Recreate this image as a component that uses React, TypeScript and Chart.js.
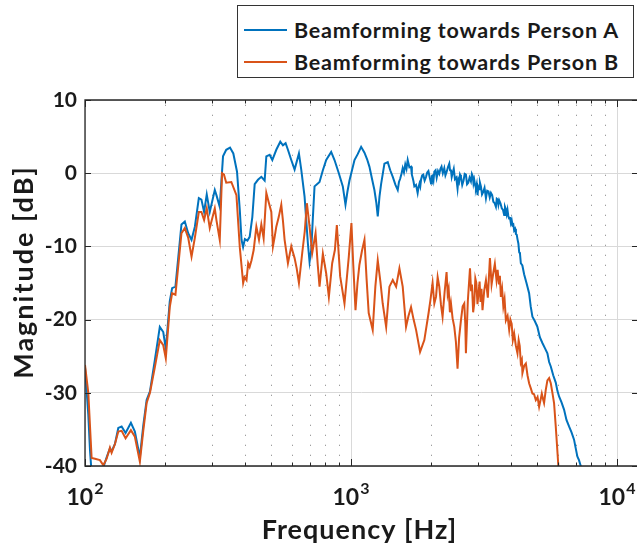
import React, { useEffect, useRef } from "react";
import { Chart, registerables } from "chart.js";

Chart.register(...registerables);

// ---------- data ----------
const freqA = [
  100, 102.9, 104.4, 105.9, 109, 113.8, 117.2, 120.6, 124.1, 125.9, 129.6, 133.4, 137.3, 142.1, 148.8,
  154.0, 160.8, 165.6, 170.5, 175.5, 183.1, 191.1, 196.9, 201.3, 208.3, 212.6, 218.8, 230.5, 237.3,
  244.3, 251.5, 258.9, 267.9, 274.0, 280.4, 286.9, 294.5, 307.6, 312.0, 321.1, 330.3, 339.6, 350.9,
  361.1, 372.9, 381.9, 387.7, 393, 399.1, 408, 416.0, 425.7, 434.5, 447.0, 460.2, 473.6, 480.6, 494.6,
  506.1, 523.9, 542.3, 554.9, 567.9, 579.4, 596.4, 613.8, 637.3, 650.2, 669.2, 688.7, 698.7, 708.9,
  719.2, 729.5, 745, 761.7, 784.0, 807.0, 842.6, 867.2, 900.2, 931.8, 953.6, 970, 987.2, 1031, 1060,
  1092, 1124, 1150, 1173, 1200, 1225, 1245, 1261, 1280, 1298, 1336, 1375, 1405, 1436, 1470,
  1499, 1515, 1530, 1548, 1565, 1582, 1600, 1617, 1634, 1658, 1682, 1694, 1705, 1718, 1731, 1756,
  1781, 1795, 1810, 1822, 1834, 1852, 1870, 1892, 1915, 1935, 1955, 1978, 2000, 2015, 2030, 2044,
  2058, 2080, 2100, 2124, 2148, 2170, 2190, 2215, 2243, 2265, 2290, 2315, 2342, 2358, 2375, 2392,
  2410, 2435, 2460, 2488, 2516, 2533, 2550, 2570, 2591, 2620, 2650, 2677, 2705, 2732, 2760, 2792,
  2825, 2848, 2870, 2888, 2907, 2928, 2950, 2970, 2991, 3010, 3030, 3055, 3080, 3110, 3140, 3178,
  3217, 3252, 3290, 3325, 3359, 3395, 3430, 3468, 3507, 3533, 3560, 3584, 3608, 3648, 3690, 3728,
  3767, 3794, 3820, 3850, 3877, 3903, 3930, 3960, 3991, 4020, 4050, 4078, 4107, 4140, 4170, 4200,
  4227, 4260, 4290, 4320, 4352, 4410, 4477, 4570, 4675, 4740, 4811,
  4910, 5023, 5130, 5245, 5360, 5477, 5560, 5640, 5760, 5888, 5970, 6059, 6190, 6326, 6460, 6606,
  6750, 6898, 7000, 7098, 7200, 7310, 7600,
];
const magA = [
  -26.5, -33, -37.8, -41, -41.5, -41, -40.2, -38.8, -37.6, -38.0, -37.0, -34.8, -34.6, -35.5, -34.1,
  -35.3, -38.8, -34.5, -31.0, -29.8, -25.5, -21.0, -21.7, -24.0, -17.5, -15.7, -15.5, -7.0, -6.6,
  -8.2, -9.1, -7.3, -3.4, -3.6, -5.3, -2.9, -5.3, -2.3, -3.0, -4.6, 2.3, 3.2, 3.5,
  2.7, 0.2, -5, -9.1, -10.1, -9.0, -9.2, -8.7, -6.0, -1.5, -0.9, -0.5, -1.0, 2.3, 2.5,
  1.8, 3.2, 4.3, 3.8, 4.1, 3.2, 1.8, 0.5, 2.7, 0.5, -3.2, -9.6, -12.1, -10.5,
  -6.0, -1.8, -1.5, -1.2, 0.4, 1.8, 2.9, 1.8, 0.0, -1.8, -4.3, -2.5, -1.0, 1.8, 2.6,
  3.6, 2.8, 1.9, 0.9, -0.8, -2.3, -4.0, -5.9, -3.2, -1.5, 1.3, 1.5, 0.4, -0.5, -1.6,
  -2.3, -1.2, -0.8, -0.1, 0.7, 0.1, 1.2, 0.6, 1.8, 0.8, 0.9, -0.2, -0.6, -1.1, -1.8, -1.6,
  -2.7, -1.9, -1.4, -1.8, -0.9, -0.3, -0.2, -1.0, -0.5, 0.1, 0.3, -0.6, -1.4, -0.4, -0.3, -0.9,
  0.2, 0.4, -0.6, 0.3, -0.1, 0.6, 0.9, 0.0, 0.7, -0.3, 0.2, 0.8, 1.3, 0.4, 0.5, -0.5,
  0.0, 0.6, -0.8, -0.6, -2.1, -0.9, -1.2, -0.2, -0.5, -1.6, -1.0, -0.1, -0.2, -1.5, -1.3, -0.6,
  -1.1, -0.1, -0.4, -1.4, -0.9, -1.6, -2.0, -1.5, -3.0, -1.9, -2.2, -1.3, -1.8, -2.9, -2.6, -2.0,
  -3.4, -2.4, -2.5, -3.3, -2.7, -3.0, -3.9, -4.1, -4.6, -3.5, -3.6, -4.3, -3.7, -4.1, -4.8, -5.0,
  -5.7, -4.6, -4.9, -5.6, -5.0, -5.8, -6.2, -6.0, -6.8, -6.4, -7.1, -7.0, -7.8, -7.6, -8.3, -8.4,
  -9.0, -9.6, -10.8, -11.0, -12.3, -12.6, -13.8, -15.0, -16.4, -18.2, -19.6,
  -20.2, -21.0, -22.4, -23.2, -23.9, -24.6, -25.8, -26.4, -27.6, -28.6, -29.7, -30.5, -31.3, -32.3, -33.7, -34.6,
  -35.4, -36.4, -37.6, -38.7, -39.2, -40.0, -42.5,
];

const freqB = [
  100, 102.9, 105.9, 109, 113.8, 117.2, 120.6, 124.1, 125.9, 129.6, 133.4, 137.3, 142.1, 148.8, 154.0,
  160.8, 165.6, 170.5, 175.5, 183.1, 191.1, 196.9, 201.3, 208.3, 212.6, 218.8, 230.5, 237.3, 244.3,
  251.5, 258.9, 267.9, 274.0, 280.4, 286.9, 294.5, 307.6, 312.0, 321.1, 327.6, 333.1, 339.6, 355.0,
  371.0, 381.9, 393.2, 398, 404.8, 410.7, 416.0, 422.8, 430.7, 440.8, 451.0, 460.2, 469.5, 480.6,
  491.7, 501.8, 508.9, 516, 523.9, 535, 547.0, 555, 563.0, 579.4, 596.4, 605, 613.8, 625, 637.3,
  655.7, 670, 682.7, 698.7, 714.9, 736.0, 750, 761.7, 784.0, 807.0, 825.8, 849.9, 870, 884.9, 910.8,
  945.4, 981.4, 1004, 1020, 1040, 1058, 1076, 1100, 1124, 1145, 1166, 1207, 1235, 1261, 1290, 1316,
  1356, 1395, 1436, 1478, 1521, 1565, 1611, 1645, 1682, 1720, 1757, 1819, 1887, 1958, 1990, 2027,
  2058, 2088, 2118, 2148, 2180, 2210, 2250, 2288, 2310, 2330, 2355, 2377, 2410, 2446, 2480, 2516,
  2550, 2591, 2630, 2667, 2690, 2705, 2750, 2802, 2828, 2850, 2880, 2907, 2935, 2960, 2990, 3017,
  3045, 3070, 3095, 3123, 3170, 3217, 3270, 3330, 3378, 3426, 3475, 3525, 3560, 3600, 3630, 3661,
  3700, 3740, 3780, 3823, 3880, 3934, 3975, 4020, 4060, 4107, 4165, 4227, 4270, 4310, 4350, 4391,
  4412, 4480, 4545, 4610, 4675, 4745, 4811, 4880, 4954, 5030, 5098, 5160, 5218, 5270, 5322, 5400,
  5477, 5560, 5640, 5720, 5802, 5888, 5960, 6022, 6150,
];
const magB = [
  -26.2, -30.0, -38.9, -39.0, -39.2, -39.9, -39.0, -37.5, -38.2, -37.0, -35.3, -35.2, -36.2, -35.1, -36.0,
  -39.4, -35.2, -31.4, -30.0, -26.5, -22.8, -23.5, -25.3, -18.3, -16.4, -16.6, -8.2, -7.5, -8.8,
  -11.4, -8.8, -5.3, -5.3, -6.4, -4.8, -7.5, -4.8, -6.4, -9.1, 0.0, -0.2, -1.3, -1.2,
  -3.0, -10.1, -15.0, -14.2, -14.6, -12.3, -12.8, -11.9, -10.5, -7.3, -9.1, -7.0, -8.9, -2.7,
  -4.1, -5.3, -10.0, -8.8, -7.3, -6.0, -4.3, -6.5, -9.1, -12.3, -10.0, -10.8, -11.6, -13.0, -15.0,
  -10.9, -8.0, -4.1, -7.3, -10.9, -8.2, -12.5, -15.5, -11.0, -13.7, -16.9, -12.3, -10.5, -7.1, -14.1,
  -17.8, -11.4, -6.8, -12.5, -18.7, -15.0, -12.5, -10.6, -9.1, -14.5, -19.1, -21.4, -15.5, -11.9, -14.8, -17.8,
  -21.0, -15.5, -14.6, -15.5, -13.0, -15.5, -21.0, -19.5, -18.3, -20.0, -21.4, -24.4, -22.8, -19.1, -17.3, -15.0,
  -17.8, -16.9, -14.2, -15.5, -18.0, -19.6, -16.2, -13.5, -16.5, -15.8, -19.0, -17.8, -19.8, -21.0, -23.0, -26.7,
  -22.5, -20.1, -18.2, -17.8, -20.5, -24.6, -17.5, -13.0, -16.0, -15.2, -19.0, -17.8, -14.4, -15.0, -17.9, -16.4,
  -14.8, -17.6, -15.8, -18.7, -16.0, -14.6, -17.0, -11.6, -15.2, -13.7, -12.4, -14.6, -13.2, -15.2, -14.0, -16.9,
  -15.8, -18.2, -17.2, -20.1, -19.5, -21.4, -20.0, -20.6, -22.8, -21.9, -23.5, -24.6, -22.8, -23.6, -25.9, -25.5,
  -27.3, -26.3, -26.0, -27.6, -28.7, -29.4, -30.1, -30.2, -31.0, -30.6, -31.9, -31.0, -30.1, -30.8, -31.4, -29.6,
  -28.3, -28.0, -28.7, -30.0, -31.4, -34.6, -37.5, -40.0, -44,
];

const seriesNames = ["Beamforming towards Person A", "Beamforming towards Person B"];
const seriesColors = ["#0072BD", "#D95319"];
const xMajorTicks = [100, 1000, 10000];
const xTickExponents = ["2", "3", "4"];
const xMinorTicks = [200, 300, 400, 500, 600, 700, 800, 900, 2000, 3000, 4000, 5000, 6000, 7000, 8000, 9000];
const yTicks = [-40, -30, -20, -10, 0, 10];
const xTitle = "Frequency [Hz]";
const yTitle = "Magnitude [dB]";
const X_MIN = 100;
const X_MAX = 12000;
const Y_MIN = -40;
const Y_MAX = 10;

const FONT = "Lato, 'DejaVu Sans', sans-serif";
const TEXT = "#1a1a1a";
const AXIS = "#262626";

const matlabAxes = {
  id: "matlabAxes",
  beforeDatasetsDraw(chart: any) {
    const { ctx, chartArea: a, scales } = chart;
    const xs = scales.x;
    ctx.save();
    ctx.lineWidth = 1;
    ctx.strokeStyle = "rgba(0,0,0,0.38)";
    ctx.setLineDash([1.3, 8.7]);
    for (const v of xMinorTicks) {
      const px = Math.round(xs.getPixelForValue(v)) + 0.5;
      ctx.beginPath();
      ctx.moveTo(px, a.bottom);
      ctx.lineTo(px, a.top);
      ctx.stroke();
    }
    ctx.setLineDash([]);
    ctx.strokeStyle = "#d9d9d9";
    for (const v of xMajorTicks) {
      const px = Math.round(xs.getPixelForValue(v)) + 0.5;
      ctx.beginPath();
      ctx.moveTo(px, a.bottom);
      ctx.lineTo(px, a.top);
      ctx.stroke();
    }
    ctx.restore();
  },
  afterDatasetsDraw(chart: any) {
    const { ctx, chartArea: a, scales } = chart;
    const xs = scales.x;
    const ys = scales.y;
    ctx.save();
    ctx.strokeStyle = AXIS;
    ctx.lineWidth = 1.3;
    ctx.beginPath();
    ctx.rect(a.left, a.top, a.right - a.left, a.bottom - a.top);
    ctx.stroke();
    ctx.lineWidth = 1;
    for (const v of yTicks) {
      const py = Math.round(ys.getPixelForValue(v)) + 0.5;
      ctx.beginPath();
      ctx.moveTo(a.left, py);
      ctx.lineTo(a.left + 6, py);
      ctx.moveTo(a.right, py);
      ctx.lineTo(a.right - 6, py);
      ctx.stroke();
    }
    const drawX = (v: number, len: number) => {
      const px = Math.round(xs.getPixelForValue(v)) + 0.5;
      ctx.beginPath();
      ctx.moveTo(px, a.bottom);
      ctx.lineTo(px, a.bottom - len);
      ctx.moveTo(px, a.top);
      ctx.lineTo(px, a.top + len);
      ctx.stroke();
    };
    xMinorTicks.forEach((v) => drawX(v, 3.5));
    xMajorTicks.forEach((v) => drawX(v, 7));

    // x tick labels 10^n
    ctx.fillStyle = TEXT;
    ctx.textBaseline = "alphabetic";
    ctx.textAlign = "left";
    xMajorTicks.forEach((v, i) => {
      const px = xs.getPixelForValue(v);
      ctx.font = `bold 23px ${FONT}`;
      const wb = ctx.measureText("10").width;
      ctx.font = `bold 16px ${FONT}`;
      const we = ctx.measureText(xTickExponents[i]).width;
      const start = px - (wb + we + 1) / 2;
      ctx.font = `bold 23px ${FONT}`;
      ctx.fillText("10", start, 505);
      ctx.font = `bold 16px ${FONT}`;
      ctx.fillText(xTickExponents[i], start + wb + 1, 494);
    });

    // axis titles
    ctx.textAlign = "center";
    ctx.textBaseline = "alphabetic";
    ctx.font = `bold 27px ${FONT}`;
    (ctx as any).letterSpacing = "1px";
    ctx.fillText(xTitle, (a.left + a.right) / 2 - 2, 539);
    ctx.save();
    (ctx as any).letterSpacing = "2px";
    ctx.translate(33, 272);
    ctx.rotate(-Math.PI / 2);
    ctx.fillText(yTitle, 0, 0);
    ctx.restore();
    (ctx as any).letterSpacing = "0px";
    ctx.restore();
  },
};

export default function App() {
  const canvasRef = useRef<HTMLCanvasElement | null>(null);

  useEffect(() => {
    const canvas = canvasRef.current;
    if (!canvas) return;
    const chart = new Chart(canvas, {
      type: "line",
      data: {
        datasets: [
          {
            label: seriesNames[0],
            data: freqA.map((f, i) => ({ x: f, y: magA[i] })),
            borderColor: seriesColors[0],
            backgroundColor: seriesColors[0],
            borderWidth: 2,
            pointRadius: 0,
            tension: 0,
            clip: 0,
            order: 1,
          },
          {
            label: seriesNames[1],
            data: freqB.map((f, i) => ({ x: f, y: magB[i] })),
            borderColor: seriesColors[1],
            backgroundColor: seriesColors[1],
            borderWidth: 2,
            pointRadius: 0,
            tension: 0,
            clip: 0,
            order: 0,
          },
        ],
      },
      options: {
        animation: false,
        responsive: false,
        devicePixelRatio: window.devicePixelRatio || 1,
        layout: { padding: { left: 0, right: 3, top: 100, bottom: 0 } },
        plugins: {
          legend: { display: false },
          tooltip: { enabled: false },
        },
        scales: {
          x: {
            type: "logarithmic",
            min: X_MIN,
            max: X_MAX,
            ticks: { display: false },
            grid: { display: false },
            border: { display: false },
            title: { display: false },
            afterFit: (s: any) => {
              s.height = 85;
            },
          },
          y: {
            type: "linear",
            min: Y_MIN,
            max: Y_MAX,
            afterBuildTicks: (s: any) => {
              s.ticks = yTicks.map((v) => ({ value: v }));
            },
            ticks: {
              color: TEXT,
              padding: 8,
              font: { family: FONT, size: 21, weight: "bold" },
            },
            grid: { color: "#d9d9d9", lineWidth: 1, drawTicks: false },
            border: { display: false },
            title: { display: false },
            afterFit: (s: any) => {
              s.width = 85;
            },
          },
        },
      },
      plugins: [matlabAxes],
    });
    return () => chart.destroy();
  }, []);

  const rowStyle = (top: number): React.CSSProperties => ({
    position: "absolute",
    left: 0,
    top,
    height: 30,
    width: "100%",
    display: "flex",
    alignItems: "center",
  });

  return (
    <div
      style={{
        position: "fixed",
        left: 0,
        top: 0,
        width: 637,
        height: 551,
        overflow: "hidden",
        background: "#fff",
      }}
    >
      <canvas ref={canvasRef} width={641} height={551} style={{ width: 641, height: 551, display: "block" }} />
      <div
        style={{
          position: "absolute",
          left: 237,
          top: 5,
          width: 397,
          height: 73,
          border: "1.3px solid #333",
          boxSizing: "border-box",
          background: "#fff",
          fontFamily: FONT,
          fontWeight: 700,
          fontSize: 21.5,
          color: TEXT,
        }}
      >
        {seriesNames.map((name, i) => (
          <div key={name} style={rowStyle(i === 0 ? 9 : 41)}>
            <div style={{ width: 43, height: 0, borderTop: `2px solid ${seriesColors[i]}`, marginLeft: 6 }} />
            <span style={{ marginLeft: 7, whiteSpace: "nowrap", letterSpacing: 0.8 }}>{name}</span>
          </div>
        ))}
      </div>
    </div>
  );
}
